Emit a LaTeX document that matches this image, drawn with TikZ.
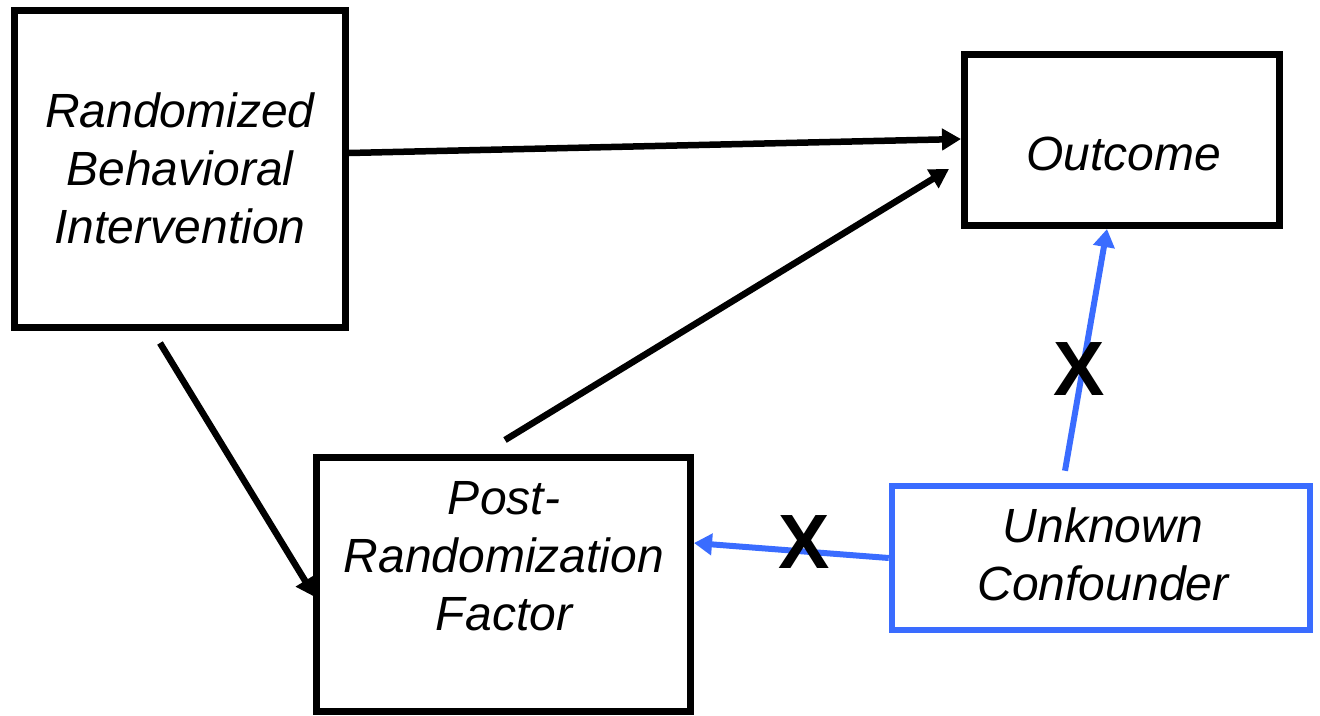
\documentclass[tikz,border=0pt]{standalone}
\usepackage{fontspec}
\setmainfont{Liberation Sans}
\usetikzlibrary{arrows.meta}
\definecolor{cblue}{RGB}{58,108,255}
\begin{document}
\begin{tikzpicture}[x=1pt,y=-1pt,
  box/.style={draw=black,line width=7pt,fill=white,minimum width=#1,inner sep=0pt},
  lbl/.style={font=\fontsize{48}{58}\selectfont\itshape,align=center,inner sep=0pt},
  xmark/.style={font=\fontsize{77}{77}\selectfont\bfseries,inner sep=0pt},
  blk/.style={line width=6.5pt,-{Triangle[length=19pt,width=21pt]}},
  blu/.style={draw=cblue,line width=6pt,-{Triangle[length=18pt,width=21pt]}}]
\useasboundingbox (0,0) rectangle (1320,715);
% boxes
\node[box=331pt,minimum height=317pt] (rbi) at (180,168.5) {};
\node[box=315pt,minimum height=171pt] (out) at (1122,140) {};
\node[box=374pt,minimum height=254pt] (prf) at (503.5,584.5) {};
\node[box=418pt,minimum height=144pt,draw=cblue,line width=6.5pt] (uc) at (1101,558) {};
% texts
\node[lbl] (rbiT) at (180,168) {Randomized\\Behavioral\\Intervention};
\node[lbl,anchor=base] (outT) at (1123.5,170) {Outcome};
\node[lbl] (prfT) at (504,556) {Post-\\Randomization\\Factor};
\node[lbl] (ucT) at (1103,554.5) {Unknown\\Confounder};
% connectors
\draw[blk] ([yshift=15.5pt]rbi.east) -- ([yshift=1pt]out.west);
\coordinate (prfTop) at ([xshift=1.5pt,yshift=14pt]prf.north);
\draw[blk] (prfTop) -- ([xshift=-12pt,yshift=-29pt]out.west);
\coordinate (rbiBot) at ([xshift=-20pt,yshift=-12.5pt]rbi.south);
\draw[blk] (rbiBot) -- ([xshift=2pt,yshift=-12.5pt]prf.west);
\coordinate (ucTop) at ([xshift=-36pt,yshift=12pt]uc.north);
\draw[blu] (ucTop) -- ([xshift=-15pt]out.south);
\draw[blu] (uc.west) -- ([yshift=41.5pt]prf.east);
% X marks
\node[xmark] (x1) at (1079,369) {X};
\node[xmark] (x2) at (804,542) {X};
\end{tikzpicture}
\end{document}
